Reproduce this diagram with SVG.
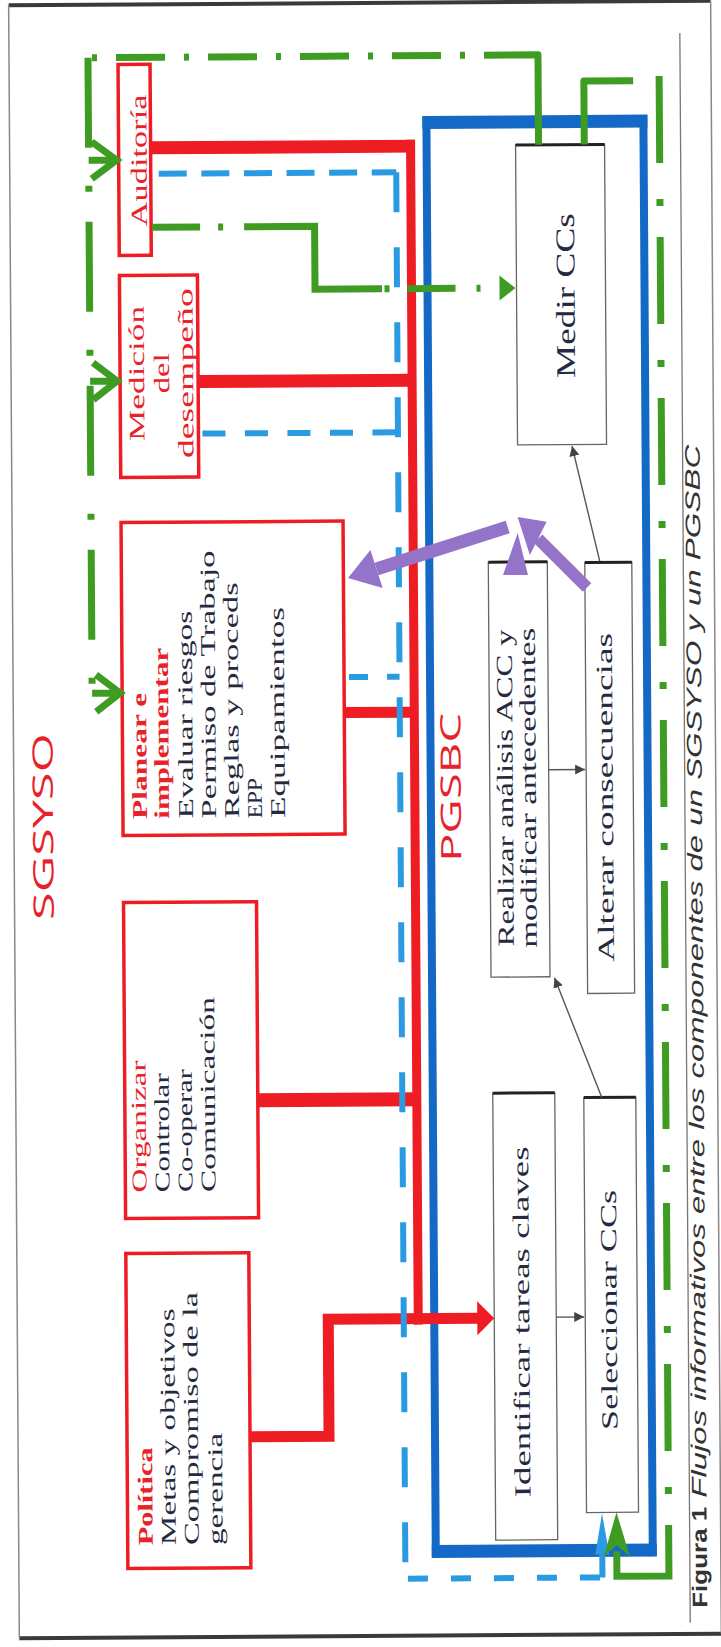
<svg xmlns="http://www.w3.org/2000/svg" width="721" height="1647" viewBox="0 0 721 1647">
<defs>
<style>
.rbox{fill:#fff;stroke:#ee1d24;stroke-width:3.5}
.ibox{fill:#fff;stroke:#666;stroke-width:1.3}
.itop{stroke:#222;stroke-width:3;fill:none}
.red{stroke:#ee1d24;fill:none}
.bd{stroke:#2a9be3;stroke-width:6;fill:none}
.gr{stroke:#3f9c22;stroke-width:7;fill:none}
.gf{fill:#3f9c22}
.pu{fill:#9474c9}
.pus{stroke:#9474c9;fill:none}
.ga{stroke:#555;stroke-width:1.4;fill:none}
.t{font-family:"Liberation Serif",serif}
.f21{font-size:21px}
.f22{font-size:22px}
.f23{font-size:23px}
.f27{font-size:27px}
.tr{fill:#e8222a}
.tk{fill:#262a40}
.b{font-weight:bold}
.ttl{font-family:"Open Sans","Liberation Sans",sans-serif;font-size:28px;fill:#e8222a}
.cap{font-family:"Liberation Sans",sans-serif;font-size:21px;fill:#333}
</style>
<marker id="ah" viewBox="0 0 10 10" refX="10" refY="5" markerWidth="10" markerHeight="10" markerUnits="userSpaceOnUse" orient="auto"><path d="M0,0 L10,5 L0,10 z" fill="#444"/></marker>
</defs>
<rect width="721" height="1647" fill="#fff"/>
<g transform="rotate(-0.375 360 823)">
<g id="frame">
<path d="M14,3 H716 M14,1636 H716" stroke="#3a3a3a" stroke-width="4" fill="none"/>
<path d="M14,3 V1636 M716,3 V1636" stroke="#888" stroke-width="1.5" fill="none"/>
<path d="M685,35 V1625" stroke="#777" stroke-width="1.3" fill="none"/>
</g>
<g id="caption">
<text class="cap b" transform="translate(702,1610) rotate(-90)" textLength="101" lengthAdjust="spacingAndGlyphs">Figura 1</text>
<text class="cap" font-style="italic" transform="translate(702,1500) rotate(-90)" textLength="1053" lengthAdjust="spacingAndGlyphs">Flujos informativos entre los componentes de un SGSYSO y un PGSBC</text>
</g>
<g id="sgsyso-title"><text class="ttl" transform="translate(53,824.5) rotate(-90)" text-anchor="middle" textLength="187" lengthAdjust="spacingAndGlyphs">SGSYSO</text></g>
<g id="pgsbc">
<path d="M427,123 H652 M427,1552 H652" stroke="#1469c6" stroke-width="13" fill="none"/>
<path d="M431,117 V1558 M648,117 V1558" stroke="#1469c6" stroke-width="8" fill="none"/>
<text class="ttl" transform="translate(461,788) rotate(-90)" text-anchor="middle" textLength="149" lengthAdjust="spacingAndGlyphs">PGSBC</text>
</g>
<g id="auditoria">
<rect class="rbox" x="123" y="63" width="32" height="191"/>
<text class="t f23 tr" transform="translate(151,159) rotate(-90)" text-anchor="middle" textLength="132" lengthAdjust="spacingAndGlyphs">Auditoría</text>
</g>
<g id="medicion">
<rect class="rbox" x="123" y="274" width="78" height="202"/>
<g class="t f22 tr" text-anchor="middle">
<text transform="translate(147,372) rotate(-90)" textLength="135" lengthAdjust="spacingAndGlyphs">Medición</text>
<text transform="translate(172,372) rotate(-90)" textLength="40" lengthAdjust="spacingAndGlyphs">del</text>
<text transform="translate(196,372) rotate(-90)" textLength="170" lengthAdjust="spacingAndGlyphs">desempeño</text>
</g>
</g>
<g id="planear">
<rect class="rbox" x="123" y="521" width="222" height="313"/>
<g class="t f21">
<text class="tr b" transform="translate(147,817.5) rotate(-90)" textLength="126" lengthAdjust="spacingAndGlyphs">Planear e</text>
<text class="tr b" transform="translate(169,817.5) rotate(-90)" textLength="171" lengthAdjust="spacingAndGlyphs">implementar</text>
<text class="tk" transform="translate(193,817.5) rotate(-90)" textLength="208" lengthAdjust="spacingAndGlyphs">Evaluar riesgos</text>
<text class="tk" transform="translate(216,817.5) rotate(-90)" textLength="268" lengthAdjust="spacingAndGlyphs">Permiso de Trabajo</text>
<text class="tk" transform="translate(239,817.5) rotate(-90)" textLength="236" lengthAdjust="spacingAndGlyphs">Reglas y proceds</text>
<text class="tk" transform="translate(262,817.5) rotate(-90)" textLength="40" lengthAdjust="spacingAndGlyphs">EPP</text>
<text class="tk" transform="translate(285,817.5) rotate(-90)" textLength="211" lengthAdjust="spacingAndGlyphs">Equipamientos</text>
</g>
</g>
<g id="organizar">
<rect class="rbox" x="123" y="901" width="133" height="316"/>
<g class="t f21">
<text class="tr" transform="translate(144,1191) rotate(-90)" textLength="132" lengthAdjust="spacingAndGlyphs">Organizar</text>
<text class="tk" transform="translate(167,1191) rotate(-90)" textLength="119" lengthAdjust="spacingAndGlyphs">Controlar</text>
<text class="tk" transform="translate(190,1191) rotate(-90)" textLength="123" lengthAdjust="spacingAndGlyphs">Co-operar</text>
<text class="tk" transform="translate(213,1191) rotate(-90)" textLength="195" lengthAdjust="spacingAndGlyphs">Comunicación</text>
</g>
</g>
<g id="politica">
<rect class="rbox" x="123" y="1252" width="123" height="315"/>
<g class="t f21">
<text class="tr b" transform="translate(148,1544) rotate(-90)" textLength="98" lengthAdjust="spacingAndGlyphs">Política</text>
<text class="tk" transform="translate(171,1544) rotate(-90)" textLength="237" lengthAdjust="spacingAndGlyphs">Metas y objetivos</text>
<text class="tk" transform="translate(194,1544) rotate(-90)" textLength="253" lengthAdjust="spacingAndGlyphs">Compromiso de la</text>
<text class="tk" transform="translate(218,1544) rotate(-90)" textLength="112" lengthAdjust="spacingAndGlyphs">gerencia</text>
</g>
</g>
<g id="medir">
<rect class="ibox" x="520" y="146" width="89" height="300"/>
<path class="itop" d="M520,146 H609"/>
<text class="t f27 tk" transform="translate(578,297) rotate(-90)" text-anchor="middle" textLength="165" lengthAdjust="spacingAndGlyphs">Medir CCs</text>
</g>
<g id="realizar">
<rect class="ibox" x="490" y="563" width="59" height="415"/>
<path class="itop" d="M490,563 H549"/>
<g class="t f23 tk" text-anchor="middle">
<text transform="translate(513,789) rotate(-90)" textLength="317" lengthAdjust="spacingAndGlyphs">Realizar análisis ACC y</text>
<text transform="translate(536,789) rotate(-90)" textLength="320" lengthAdjust="spacingAndGlyphs">modificar antecedentes</text>
</g>
</g>
<g id="alterar">
<rect class="ibox" x="586.5" y="564" width="47" height="431"/>
<path class="itop" d="M586.5,564 H633.5"/>
<text class="t f23 tk" transform="translate(613,799) rotate(-90)" text-anchor="middle" textLength="329" lengthAdjust="spacingAndGlyphs">Alterar consecuencias</text>
</g>
<g id="identificar">
<rect class="ibox" x="491" y="1094" width="62" height="447"/>
<path class="itop" d="M491,1094 H553"/>
<text class="t f23 tk" transform="translate(526,1323) rotate(-90)" text-anchor="middle" textLength="351" lengthAdjust="spacingAndGlyphs">Identificar tareas claves</text>
</g>
<g id="seleccionar">
<rect class="ibox" x="582" y="1099" width="52" height="415"/>
<path class="itop" d="M582,1099 H634"/>
<text class="t f23 tk" transform="translate(613.5,1311.6) rotate(-90)" text-anchor="middle" textLength="240" lengthAdjust="spacingAndGlyphs">Seleccionar CCs</text>
</g>
<g id="connectors">
<g class="red">
<path d="M415,140 V1325" stroke-width="9"/>
<path d="M155,146.5 H419.5" stroke-width="13"/>
<path d="M201,380.5 H415" stroke-width="13"/>
<path d="M345,712.5 H415" stroke-width="11"/>
<path d="M256,1099.5 H415" stroke-width="14"/>
<path d="M246,1436 H325 V1319 H475" stroke-width="11"/>
</g>
<polygon points="474,1302 491,1319 474,1336" fill="#ee1d24"/>
<g class="bd">
<path d="M163,172.5 H400.5" stroke-dasharray="28 14.6"/>
<path d="M400.5,172.5 V1579" stroke-dasharray="40 35"/>
<path d="M205,432.6 H400.5" stroke-dasharray="23 19.5"/>
<path d="M350,677 H400.5" stroke-dasharray="19 19"/>
<path d="M403,1579 H597" stroke-dasharray="20 23"/>
<path d="M597.5,1579 V1552"/>
</g>
<polygon points="597.5,1515 590.5,1556 604.5,1556" fill="#2a9be3"/>
<g class="gr">
<path d="M543,146 V56 H489" stroke-linejoin="round"/>
<path d="M470,56 H93" stroke-dasharray="5 19 49 19"/>
<path d="M93,56 V691" stroke-dasharray="90 38 6 30"/>
<path d="M96,140 L121,158.5 L96,177 M93,158.5 H115"/>
<path d="M96,361 L120,379.5 L96,398 M93,379.5 H114"/>
<path d="M97,673 L121,691.5 L97,710 M93,691.5 H115"/>
<path d="M156,226 H204 M222,226 H227 M248,226 H318.5 V289 H385.5 M388,289 H393 M411,289 H459 M480,289 H484"/>
<path d="M588.7,146 V82.6 H638" stroke-linejoin="round"/>
<path d="M664,78 V1527" stroke-dasharray="87 36 7 31"/>
<path d="M664,1527 V1578 H612 V1553"/>
</g>
<polygon class="gf" points="503,276.5 519,289 503,301.5"/>
<polygon class="gf" points="612,1514 625,1558 612,1547 599,1558"/>
<g class="ga">
<path d="M553,1318.4 H581" marker-end="url(#ah)"/>
<path d="M600,1099 L553.5,979" marker-end="url(#ah)"/>
<path d="M549,771 H585.5" marker-end="url(#ah)"/>
<path d="M601.5,563 L574.5,447.5" marker-end="url(#ah)"/>
</g>
<path class="pus" d="M509.6,528 L378.2,569.1" stroke-width="13"/>
<polygon class="pu" points="349.6,578 384.2,588.2 372.2,550"/>
<path class="pus" d="M588.6,589 L540,540" stroke-width="12"/>
<polygon class="pu" points="519.6,518 548.6,523 531.6,556"/>
<polygon class="pu" points="519.6,534 504.6,576 529.6,576"/>
</g>
</g>
</svg>
